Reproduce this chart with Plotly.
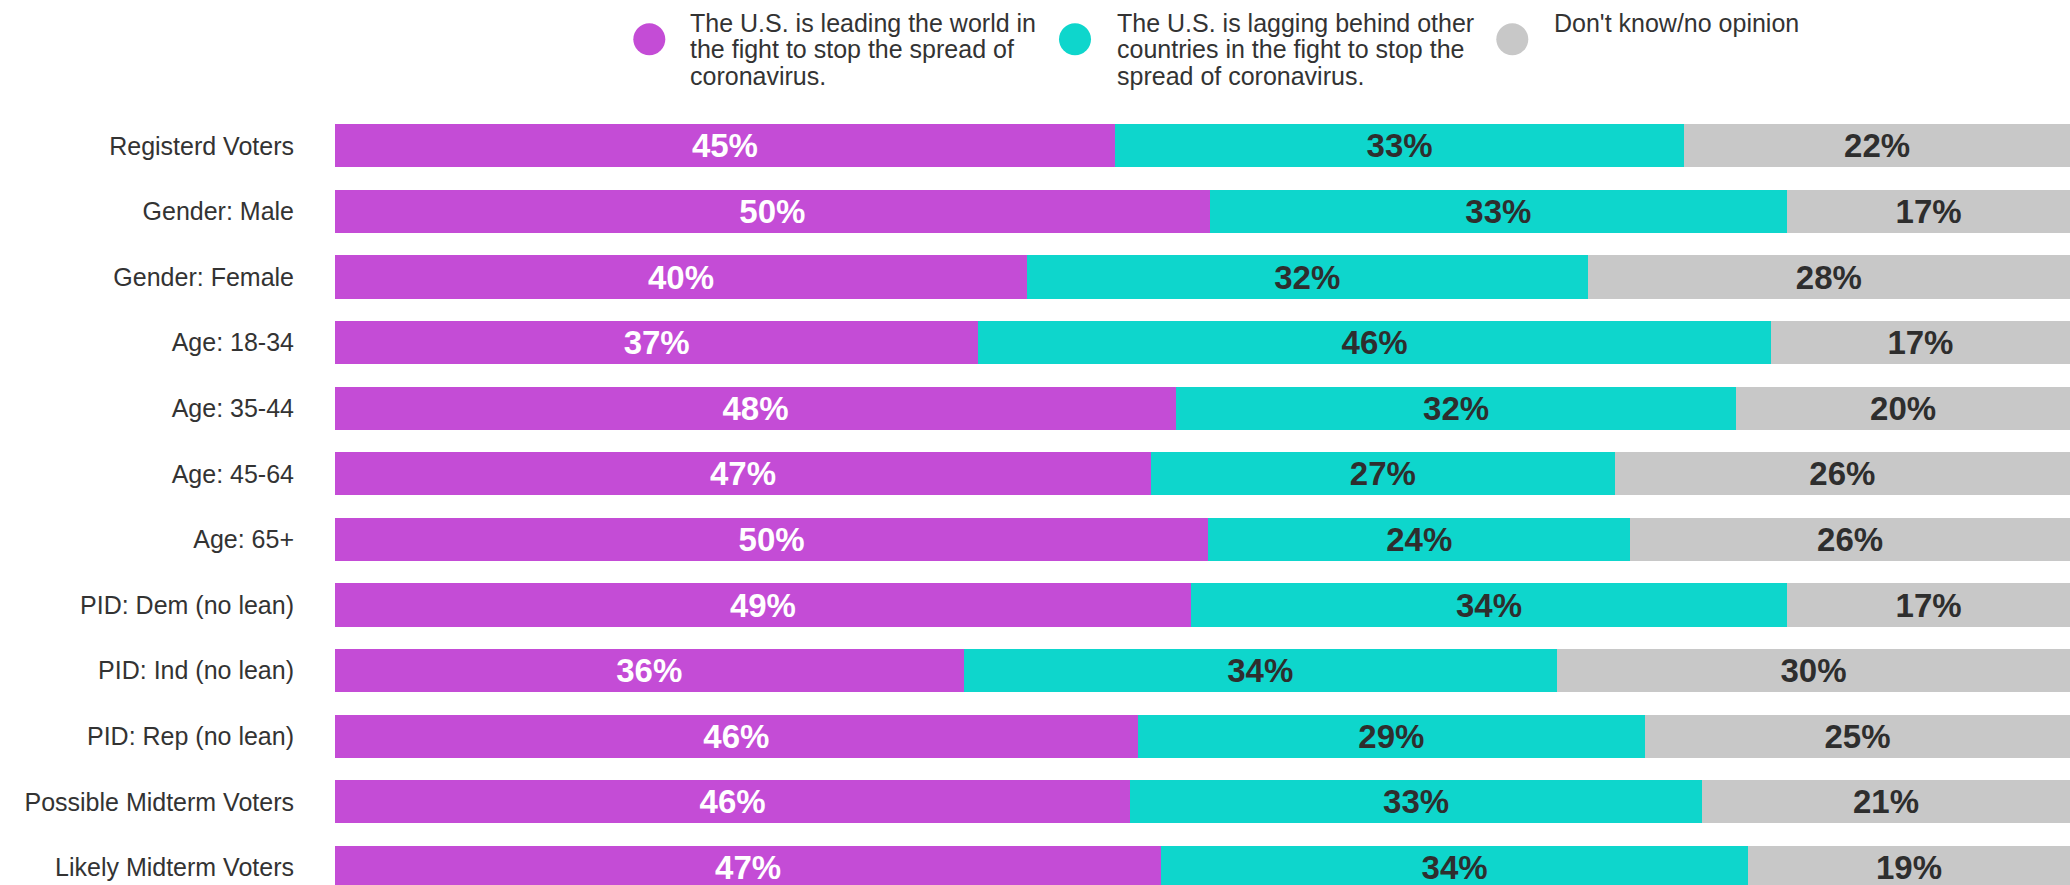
import plotly.graph_objects as go

categories = ["Registerd Voters", "Gender: Male", "Gender: Female", "Age: 18-34",
              "Age: 35-44", "Age: 45-64", "Age: 65+", "PID: Dem (no lean)",
              "PID: Ind (no lean)", "PID: Rep (no lean)", "Possible Midterm Voters",
              "Likely Midterm Voters"]

series_names = ["The U.S. is leading the world in<br>the fight to stop the spread of<br>coronavirus.",
                "The U.S. is lagging behind other<br>countries in the fight to stop the<br>spread of coronavirus.",
                "Don't know/no opinion"]

leading = [44.95, 50.41, 39.88, 37.08, 48.47, 47.03, 50.33, 49.33, 36.23, 46.27, 45.83, 47.62]
lagging = [32.82, 33.29, 32.32, 45.68, 32.29, 26.73, 24.32, 34.37, 34.20, 29.23, 32.96, 33.82]
dontknow = [22.23, 16.30, 27.80, 17.24, 19.24, 26.24, 25.35, 16.30, 29.57, 24.50, 21.21, 18.56]

leading_lbl = [45, 50, 40, 37, 48, 47, 50, 49, 36, 46, 46, 47]
lagging_lbl = [33, 33, 32, 46, 32, 27, 24, 34, 34, 29, 33, 34]
dontknow_lbl = [22, 17, 28, 17, 20, 26, 26, 17, 30, 25, 21, 19]

colors = ["#C44CD6", "#0ED6CC", "#C8C8C8"]
label_colors = ["#FFFFFF", "#2E2E2E", "#2E2E2E"]

FONT = "Arial, Liberation Sans, Helvetica, sans-serif"
W, H = 2070, 885
ML, MR, MT, MB = 335, 0, 113, 0
PW, PH = W - ML - MR, H - MT - MB
PITCH = 65.6

fig = go.Figure()
for name, vals, lbls, col, tcol in zip(series_names, [leading, lagging, dontknow],
                                       [leading_lbl, lagging_lbl, dontknow_lbl],
                                       colors, label_colors):
    fig.add_trace(go.Bar(
        y=categories, x=vals, orientation="h", name=name.replace("<br>", " "),
        marker=dict(color=col, line=dict(width=0)),
        text=[f"{v}%" for v in lbls], textposition="inside",
        insidetextanchor="middle", textangle=0, constraintext="none",
        textfont=dict(family=FONT, size=33, color=tcol, weight="bold"),
        showlegend=False,
    ))

units = PH / PITCH
fig.update_layout(
    width=W, height=H, barmode="stack", bargap=0.34,
    margin=dict(l=ML, r=MR, t=MT, b=MB, pad=0),
    paper_bgcolor="white", plot_bgcolor="white",
    font=dict(family=FONT, color="#333333"),
    xaxis=dict(range=[0, 100], visible=False, fixedrange=True),
    yaxis=dict(categoryorder="array", categoryarray=categories,
               range=[units - 0.5, -0.5], showgrid=False, zeroline=False,
               showline=False, ticks="", ticklabelstandoff=40, fixedrange=True,
               tickfont=dict(family=FONT, size=25, color="#333333")),
)

def px2x(px):
    return (px - ML) / PW

def px2y(py):
    return (H - MB - py) / PH

# legend built by hand: circle markers and line-by-line text
legend_marker_x = [649.3, 1075.0, 1512.3]
legend_text_x = [688.3, 1115.0, 1551.7]
legend_marker_y = 39.3
line_centers = [22.5, 49.3, 76.0]

for i, name in enumerate(series_names):
    fig.add_shape(type="circle", xref="paper", yref="paper",
                  xsizemode="pixel", ysizemode="pixel",
                  xanchor=px2x(legend_marker_x[i]), yanchor=px2y(legend_marker_y),
                  x0=-16, x1=16, y0=-16, y1=16,
                  fillcolor=colors[i], line=dict(width=0))
    for j, line in enumerate(name.split("<br>")):
        fig.add_annotation(text=line, xref="paper", yref="paper",
                           x=px2x(legend_text_x[i]), y=px2y(line_centers[j]),
                           xanchor="left", yanchor="middle", showarrow=False,
                           font=dict(family=FONT, size=25, color="#333333"))

fig.write_html("out.html", config={"displayModeBar": False},
               post_script="document.body.style.margin='0';document.body.style.overflow='hidden';")
